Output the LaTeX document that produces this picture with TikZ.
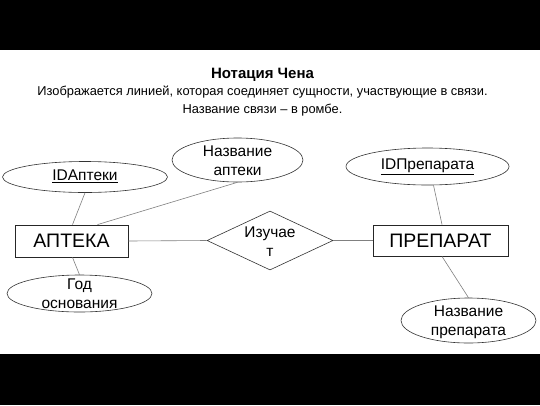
\documentclass[tikz,border=0pt]{standalone}
\usepackage{fontspec}
\setmainfont{Liberation Sans}
\usetikzlibrary{shapes.geometric}
\begin{document}
\begin{tikzpicture}[x=1pt,y=-1pt,
  attr/.style={draw=black!80, line width=0.6pt, ellipse, inner sep=0pt},
  ent/.style={draw=black!85, line width=0.8pt, rectangle, inner sep=0pt, font=\fontsize{19.5}{22}\selectfont},
  rel/.style={draw=black!80, line width=0.6pt, diamond, inner sep=0pt},
  lbl/.style={align=center, inner sep=0pt, font=\fontsize{15.5}{19}\selectfont},
  conn/.style={draw=black!50, line width=0.6pt}]
\useasboundingbox (0,0) rectangle (540,405);
\fill[white] (0,0) rectangle (540,405);
\fill[black] (0,0) rectangle (540,50);
\fill[black] (0,354) rectangle (540,405);
% header
\node[anchor=base, inner sep=0pt, font=\fontsize{15}{17}\selectfont\bfseries] (title) at (262.5,78) {Нотация Чена};
\node[anchor=base, inner sep=0pt, font=\fontsize{12.85}{15}\selectfont] (sub1) at (262.5,95.5) {Изображается линией, которая соединяет сущности, участвующие в связи.};
\node[anchor=base, inner sep=0pt, font=\fontsize{12.85}{15}\selectfont] (sub2) at (262.5,113) {Название связи – в ромбе.};
% entities
\node[ent, minimum width=113pt, minimum height=32pt] (apt) at (71.5,241) {АПТЕКА};
\node[ent, minimum width=135pt, minimum height=31pt] (prep) at (440.5,240.5) {ПРЕПАРАТ};
% relation
\node[rel, minimum width=126pt, minimum height=59pt] (izuch) at (270,240.5) {};
\node[lbl] (izuchT) at (270,242) {Изучае\\т};
% attributes
\node[attr, minimum width=165pt, minimum height=31pt] (ida) at (85,177) {};
\node[lbl] (idaT) at (85,176) {\underline{IDАптеки}};
\node[attr, minimum width=131pt, minimum height=44pt] (napt) at (237.5,160) {};
\node[lbl] (naptT) at (237.5,161) {Название\\аптеки};
\node[attr, minimum width=145pt, minimum height=37pt] (god) at (79.5,293.5) {};
\node[lbl] (godT) at (79.5,294) {Год\\основания};
\node[attr, minimum width=163pt, minimum height=37pt] (idp) at (427.5,166.5) {};
\node[lbl] (idpT) at (427.5,167) {\underline{IDПрепарата}};
\node[attr, minimum width=135pt, minimum height=45pt] (nprep) at (468.5,320.5) {};
\node[lbl] (nprepT) at (468.5,322) {Название\\препарата};
% connectors
\draw[conn] (ida.south) -- ([xshift=1pt]apt.north);
\draw[conn] (napt.south) -- ([xshift=26pt]apt.north);
\draw[conn] ([xshift=1pt]apt.south) -- (god.north);
\draw[conn] (apt.east) -- (izuch.west);
\draw[conn] (izuch.east) -- (prep.west);
\draw[conn] ([xshift=6pt]idp.south) -- ([xshift=1.5pt]prep.north);
\draw[conn] ([xshift=1.5pt]prep.south) -- (nprep.north);
\end{tikzpicture}
\end{document}
